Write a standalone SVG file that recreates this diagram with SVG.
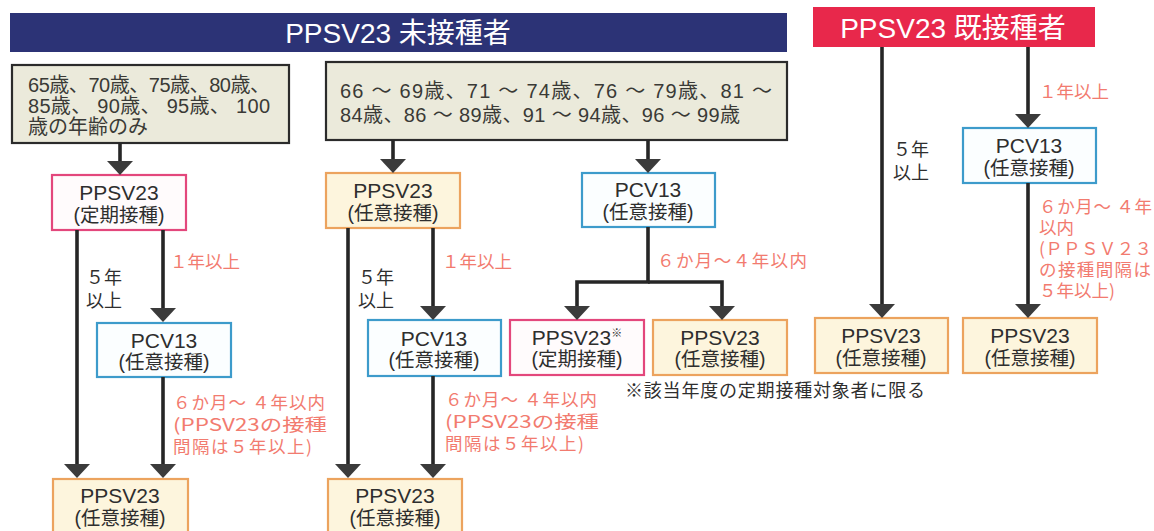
<svg xmlns="http://www.w3.org/2000/svg" width="1154" height="531" viewBox="0 0 1154 531">
<defs>
<style>
text{font-family:"Liberation Sans","Noto Sans CJK JP",sans-serif;fill:#333}
.title{font-size:28px;fill:#fff;text-anchor:middle}
.age{font-size:20px;fill:#3a3a36}
.nt{font-size:21px;text-anchor:middle;fill:#2e2e2e}
.ns{font-size:19.5px;text-anchor:middle;fill:#2e2e2e}
.pk{font-size:17.5px;fill:#f27b6f;font-family:"Noto Sans CJK JP",sans-serif}
.bk{font-size:18px;fill:#2e2e2e;font-family:"Noto Sans CJK JP",sans-serif}
.grey{fill:#ebeadb;stroke:#2b2b2b;stroke-width:2.2}
.pink{fill:#fffbfc;stroke:#e3477c;stroke-width:2.2}
.orange{fill:#fdf5dd;stroke:#eca35e;stroke-width:2.2}
.blue{fill:#fbfeff;stroke:#3d9bcb;stroke-width:2.2}
.ln{fill:none;stroke:#262626;stroke-width:3.6;marker-end:url(#ah)}
</style>
<marker id="ah" viewBox="0 0 14 26" refX="10" refY="13" markerWidth="14" markerHeight="26" markerUnits="userSpaceOnUse" orient="auto">
<path d="M0,0 L14,13 L0,26 Z" fill="#3b3b3b"/>
</marker>
</defs>
<rect width="1154" height="531" fill="#ffffff"/>

<g id="banner-unvaccinated">
<rect x="10" y="13" width="777" height="39" fill="#2c3376"/>
<text class="title" x="398" y="43">PPSV23 未接種者</text>
</g>
<g id="banner-vaccinated">
<rect x="813" y="7" width="282" height="40" fill="#e8284b"/>
<text class="title" x="953" y="38">PPSV23 既接種者</text>
</g>

<g id="ages-5year">
<rect class="grey" x="12" y="65" width="277" height="78"/>
<text class="age" x="28" y="92" textLength="242" lengthAdjust="spacing">65歳、70歳、75歳、80歳、</text>
<text class="age" x="28" y="113" textLength="242" lengthAdjust="spacing">85歳、 90歳、 95歳、 100</text>
<text class="age" x="28" y="134">歳の年齢のみ</text>
</g>
<g id="ages-other">
<rect class="grey" x="326" y="62" width="461" height="78"/>
<text class="age" x="340" y="98" textLength="432" lengthAdjust="spacing">66 ～ 69歳、71 ～ 74歳、76 ～ 79歳、81 ～</text>
<text class="age" x="340" y="122" textLength="400" lengthAdjust="spacing">84歳、86 ～ 89歳、91 ～ 94歳、96 ～ 99歳</text>
</g>

<g id="c1-ppsv-teiki">
<rect class="pink" x="52" y="175" width="134" height="55"/>
<text class="nt" x="119" y="200">PPSV23</text>
<text class="ns" x="119" y="222">(定期接種)</text>
</g>
<g id="c1-pcv">
<rect class="blue" x="97" y="323" width="134" height="54"/>
<text class="nt" x="164" y="348">PCV13</text>
<text class="ns" x="164" y="369">(任意接種)</text>
</g>
<g id="c1-ppsv-nini">
<rect class="orange" x="53" y="479" width="135" height="60"/>
<text class="nt" x="120" y="503">PPSV23</text>
<text class="ns" x="120" y="525">(任意接種)</text>
</g>

<g id="c2-ppsv-nini-top">
<rect class="orange" x="326" y="173" width="134" height="55"/>
<text class="nt" x="393" y="198">PPSV23</text>
<text class="ns" x="393" y="220">(任意接種)</text>
</g>
<g id="c2-pcv">
<rect class="blue" x="368" y="320" width="133" height="56"/>
<text class="nt" x="434" y="346">PCV13</text>
<text class="ns" x="434" y="367">(任意接種)</text>
</g>
<g id="c2-ppsv-nini">
<rect class="orange" x="328" y="479" width="134" height="60"/>
<text class="nt" x="395" y="503">PPSV23</text>
<text class="ns" x="395" y="525">(任意接種)</text>
</g>

<g id="c3-pcv">
<rect class="blue" x="582" y="173" width="133" height="54"/>
<text class="nt" x="648" y="197">PCV13</text>
<text class="ns" x="648" y="219">(任意接種)</text>
</g>
<g id="c3-ppsv-teiki">
<rect class="pink" x="510" y="320" width="134" height="55"/>
<text class="nt" x="577" y="345">PPSV23<tspan font-size="11" dy="-8">※</tspan></text>
<text class="ns" x="577" y="366">(定期接種)</text>
</g>
<g id="c3-ppsv-nini">
<rect class="orange" x="653" y="320" width="134" height="55"/>
<text class="nt" x="720" y="345">PPSV23</text>
<text class="ns" x="720" y="366">(任意接種)</text>
</g>

<g id="c4-ppsv-nini">
<rect class="orange" x="815" y="318" width="133" height="55"/>
<text class="nt" x="881" y="343">PPSV23</text>
<text class="ns" x="881" y="365">(任意接種)</text>
</g>
<g id="c5-pcv">
<rect class="blue" x="963" y="128" width="133" height="55"/>
<text class="nt" x="1029" y="153">PCV13</text>
<text class="ns" x="1029" y="175">(任意接種)</text>
</g>
<g id="c5-ppsv-nini">
<rect class="orange" x="963" y="318" width="134" height="55"/>
<text class="nt" x="1030" y="343">PPSV23</text>
<text class="ns" x="1030" y="365">(任意接種)</text>
</g>

<g id="connectors">
<path class="ln" d="M120 143 V171"/>
<path class="ln" d="M77 230 V474"/>
<path class="ln" d="M163 230 V318"/>
<path class="ln" d="M163 377 V474"/>
<path class="ln" d="M393 140 V169"/>
<path class="ln" d="M348 228 V474"/>
<path class="ln" d="M433 228 V316"/>
<path class="ln" d="M433 376 V474"/>
<path class="ln" d="M648 140 V169"/>
<path class="ln" d="M648 227 V282 H577 V316"/>
<path class="ln" d="M648 282 H722 V316"/>
<path class="ln" d="M882 47 V314"/>
<path class="ln" d="M1028 47 V124"/>
<path class="ln" d="M1028 183 V314"/>
</g>

<g id="labels">
<text class="pk" x="170" y="268">１年以上</text>
<text class="bk" x="86" y="284">５年</text>
<text class="bk" x="86" y="307">以上</text>
<text class="pk" x="173" y="409" textLength="152" lengthAdjust="spacing">６か月～ ４年以内</text>
<text class="pk" x="173" y="431" textLength="154" lengthAdjust="spacingAndGlyphs">(PPSV23の接種</text>
<text class="pk" x="173" y="453" textLength="139" lengthAdjust="spacing">間隔は５年以上)</text>

<text class="pk" x="442" y="268">１年以上</text>
<text class="bk" x="358" y="284">５年</text>
<text class="bk" x="358" y="307">以上</text>
<text class="pk" x="445" y="406" textLength="152" lengthAdjust="spacing">６か月～ ４年以内</text>
<text class="pk" x="445" y="428" textLength="154" lengthAdjust="spacingAndGlyphs">(PPSV23の接種</text>
<text class="pk" x="445" y="450" textLength="139" lengthAdjust="spacing">間隔は５年以上)</text>

<text class="pk" x="657" y="267" textLength="150" lengthAdjust="spacing">６か月～４年以内</text>
<text class="bk" x="625" y="397" textLength="300" lengthAdjust="spacing">※該当年度の定期接種対象者に限る</text>

<text class="bk" x="893" y="156">５年</text>
<text class="bk" x="893" y="179">以上</text>
<text class="pk" x="1039" y="98">１年以上</text>
<text class="pk" x="1039" y="213" textLength="113" lengthAdjust="spacing">６か月～ ４年</text>
<text class="pk" x="1039" y="234">以内</text>
<text class="pk" x="1039" y="255" textLength="113" lengthAdjust="spacing">(ＰＰＳＶ２３</text>
<text class="pk" x="1039" y="276" textLength="112" lengthAdjust="spacing">の接種間隔は</text>
<text class="pk" x="1039" y="297">５年以上)</text>
</g>
</svg>
